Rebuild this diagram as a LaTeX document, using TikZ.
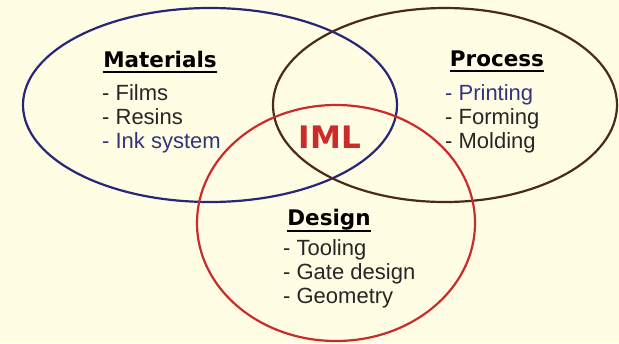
\documentclass[tikz,border=0pt]{standalone}
\usepackage{fontspec}
\setmainfont{Liberation Sans}
\newfontfamily\headfont{DejaVu Sans}
\usetikzlibrary{calc}

\definecolor{bgyellow}{HTML}{FFFDE3}
\definecolor{matblue}{HTML}{27277A}
\definecolor{probrown}{HTML}{4B2A1C}
\definecolor{desred}{HTML}{CC2B2B}
\definecolor{itemgray}{HTML}{262626}
\definecolor{itemblue}{HTML}{34347E}

\tikzset{
  ring/.style={line width=2.2pt},
  head/.style={inner sep=0pt, anchor=base, font=\headfont\bfseries\fontsize{21.5}{24}\selectfont, text=black},
  item/.style={inner sep=0pt, anchor=base west, font=\fontsize{22}{24}\selectfont, text=itemgray},
  uline/.style={line width=1.8pt, black}
}

\begin{document}
\begin{tikzpicture}[x=1pt, y=-1pt]

\fill[bgyellow] (0,0) rectangle (619,343);
\useasboundingbox (0,0) rectangle (619,343);

% the three sets
\draw[ring, matblue] (210,105) ellipse [x radius=187pt, y radius=97pt];
\draw[ring, probrown] (445,105) ellipse [x radius=172pt, y radius=97pt];
\draw[ring, desred] (336,223) ellipse [x radius=139pt, y radius=118pt];

% Materials
\node[head] at (160,67) (mat) {Materials};
\draw[uline] ($(mat.base west)+(0,5)$) -- ($(mat.base east)+(0,5)$);
\node[item] at (102,100) (films) {- Films};
\node[item] at (102,124) (resins) {- Resins};
\node[item, text=itemblue] at (102,148) (ink) {- Ink system};

% Process
\node[head] at (497,66) (proc) {Process};
\draw[uline] ($(proc.base west)+(0,5)$) -- ($(proc.base east)+(0,5)$);
\node[item, text=itemblue] at (445,100) (print) {- Printing};
\node[item] at (445,124) (form) {- Forming};
\node[item] at (445,148) (mold) {- Molding};

% Design
\node[head] at (329,225) (des) {Design};
\draw[uline] ($(des.base west)+(0,6)$) -- ($(des.base east)+(0,6)$);
\node[item] at (283,255) (tool) {- Tooling};
\node[item] at (283,279) (gate) {- Gate design};
\node[item] at (283,303) (geo) {- Geometry};

% centre
\node[head, font=\headfont\bfseries\fontsize{31}{36}\selectfont, text=desred] at (330,148) (iml) {IML};

\end{tikzpicture}
\end{document}
